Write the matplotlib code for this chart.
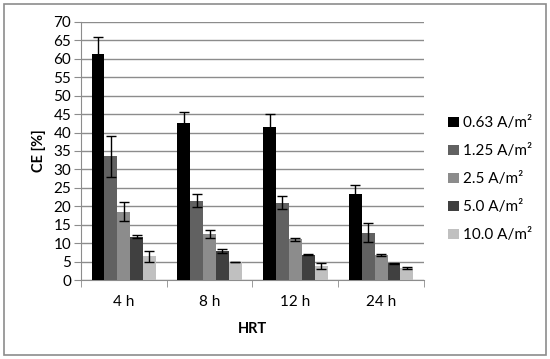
import numpy as np
import matplotlib.pyplot as plt
from matplotlib.patches import Rectangle

hrt = ['4 h', '8 h', '12 h', '24 h']
densities = ['0.63 A/m²', '1.25 A/m²', '2.5 A/m²', '5.0 A/m²', '10.0 A/m²']
ce_063 = [61.2, 42.7, 41.5, 23.4]
ce_125 = [33.5, 21.5, 21.0, 12.8]
ce_25 = [18.5, 12.5, 11.0, 6.8]
ce_50 = [11.8, 7.9, 6.9, 4.5]
ce_100 = [6.5, 4.9, 3.9, 3.3]
err_063 = [4.6, 2.8, 3.5, 2.4]
err_125 = [5.6, 1.7, 1.7, 2.6]
err_25 = [2.6, 1.0, 0.3, 0.2]
err_50 = [0.5, 0.5, 0.2, 0.2]
err_100 = [1.5, 0.1, 0.8, 0.2]

values = [ce_063, ce_125, ce_25, ce_50, ce_100]
errors = [err_063, err_125, err_25, err_50, err_100]
colors = ['#000000', '#616161', '#8c8c8c', '#404040', '#c0c0c0']

plt.rcParams['font.family'] = ['Lato', 'DejaVu Sans']

fig = plt.figure(figsize=(5.5, 3.59), dpi=100)
ax = fig.add_axes([0.147, 0.22, 0.624, 0.719])
fig.patches.append(Rectangle((0.007, 0.011), 0.986, 0.978, transform=fig.transFigure,
                             fill=False, edgecolor='#8c8c8c', linewidth=1.2))

x = np.arange(len(hrt))
w = 0.15
for i in range(5):
    ax.bar(x + (i - 2) * w, values[i], w, color=colors[i], label=densities[i],
           yerr=errors[i], capsize=3.5, error_kw=dict(elinewidth=1, capthick=1, ecolor='black'),
           zorder=3)

ax.set_xlim(-0.5, 3.5)
ax.set_ylim(0, 70)
ax.set_yticks(range(0, 71, 5))
ax.yaxis.grid(True, color='#8c8c8c', linewidth=1, zorder=0)
ax.set_xticks(x)
ax.set_xticklabels(hrt, fontsize=11)
ax.set_xticks(np.arange(-0.5, 4, 1), minor=True)
ax.tick_params(axis='x', which='major', length=0, pad=11)
ax.tick_params(axis='x', which='minor', length=5, color='#8c8c8c')
ax.tick_params(axis='y', labelsize=11, length=5, color='#8c8c8c', pad=2)
for s in ['top', 'right']:
    ax.spines[s].set_visible(False)
ax.spines['left'].set_color('#8c8c8c')
ax.spines['bottom'].set_color('#8c8c8c')

ax.set_ylabel('CE [%]', fontsize=10.5, fontweight='bold', labelpad=5)
ax.set_xlabel('HRT', fontsize=10.5, fontweight='bold', labelpad=9)

ax.legend(loc='center left', bbox_to_anchor=(1.03, 0.39), frameon=False, fontsize=11,
          handlelength=0.7, handleheight=0.7, handletextpad=0.3, labelspacing=0.92)

fig.savefig('out.png', dpi=100)
